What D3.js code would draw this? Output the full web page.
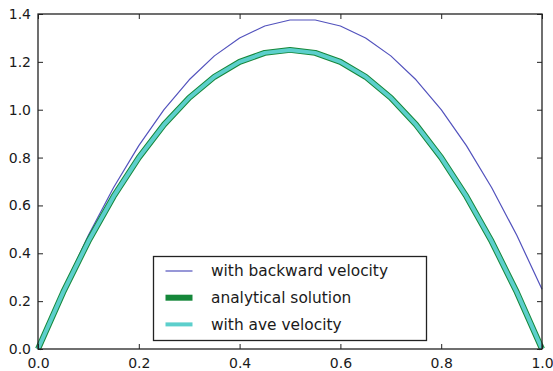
<!DOCTYPE html>
<html>
<head>
<meta charset="utf-8">
<script src="https://cdn.jsdelivr.net/npm/d3@7"></script>
<style>
  body { margin: 0; background: #fff; }
  svg text { font-family: "DejaVu Sans", sans-serif; fill: #1a1a1a; }
</style>
</head>
<body>
<div id="chart"></div>
<script>
const xs = [0, 0.05, 0.1, 0.15, 0.2, 0.25, 0.3, 0.35, 0.4, 0.45, 0.5, 0.55, 0.6, 0.65, 0.7, 0.75, 0.8, 0.85, 0.9, 0.95, 1.0];
const backward = [0, 0.25, 0.475, 0.675, 0.85, 1.0, 1.125, 1.225, 1.3, 1.35, 1.375, 1.375, 1.35, 1.3, 1.225, 1.125, 1.0, 0.85, 0.675, 0.475, 0.25];
const analytical = [0, 0.2375, 0.45, 0.6375, 0.8, 0.9375, 1.05, 1.1375, 1.2, 1.2375, 1.25, 1.2375, 1.2, 1.1375, 1.05, 0.9375, 0.8, 0.6375, 0.45, 0.2375, 0];
const aveVelocity = [0, 0.2375, 0.45, 0.6375, 0.8, 0.9375, 1.05, 1.1375, 1.2, 1.2375, 1.25, 1.2375, 1.2, 1.1375, 1.05, 0.9375, 0.8, 0.6375, 0.45, 0.2375, 0];
const xTicks = [0, 0.2, 0.4, 0.6, 0.8, 1.0];
const yTicks = [0, 0.2, 0.4, 0.6, 0.8, 1.0, 1.2, 1.4];

const series = [
  { name: 'with backward velocity', values: backward, color: '#5252bd', width: 1.2 },
  { name: 'analytical solution', values: analytical, color: '#15873a', width: 6 },
  { name: 'with ave velocity', values: aveVelocity, color: '#5ccfcc', width: 4 }
];

const width = 553, height = 371;
const margin = { top: 14, right: 11, bottom: 22, left: 38 };
const w = width - margin.left - margin.right;
const h = height - margin.top - margin.bottom;

const svg = d3.select('#chart').append('svg')
  .attr('width', width).attr('height', height);

const g = svg.append('g').attr('transform', `translate(${margin.left},${margin.top})`);

const x = d3.scaleLinear().domain([0, 1]).range([0, w]);
const y = d3.scaleLinear().domain([0, 1.4]).range([h, 0]);

// Lines
const line = d3.line().x((d, i) => x(xs[i])).y(d => y(d));
series.forEach(s => {
  g.append('path')
    .datum(s.values)
    .attr('d', line)
    .attr('fill', 'none')
    .attr('stroke', s.color)
    .attr('stroke-width', s.width)
    .attr('stroke-linejoin', 'round');
});

// Frame
g.append('rect')
  .attr('width', w).attr('height', h)
  .attr('fill', 'none').attr('stroke', '#222').attr('stroke-width', 1.3);

// Axes (ticks inward, on all sides)
const fmt = d3.format('.1f');
const xb = g.append('g').attr('transform', `translate(0,${h})`)
  .call(d3.axisBottom(x).tickValues(xTicks).tickFormat(fmt).tickSizeInner(-5).tickSizeOuter(0).tickPadding(9));
const xt = g.append('g')
  .call(d3.axisTop(x).tickValues(xTicks).tickFormat('').tickSizeInner(-5).tickSizeOuter(0));
const yl = g.append('g')
  .call(d3.axisLeft(y).tickValues(yTicks).tickFormat(fmt).tickSizeInner(-5).tickSizeOuter(0).tickPadding(7));
const yr = g.append('g').attr('transform', `translate(${w},0)`)
  .call(d3.axisRight(y).tickValues(yTicks).tickFormat('').tickSizeInner(-5).tickSizeOuter(0));

[xb, xt, yl, yr].forEach(a => {
  a.select('.domain').remove();
  a.selectAll('line').attr('stroke', '#222');
  a.selectAll('text').attr('font-size', '14px').attr('fill', '#1a1a1a')
    .style('font-family', '"DejaVu Sans", sans-serif');
});

// Legend
const legend = svg.append('g').attr('transform', 'translate(153.5,256.5)');
legend.append('rect')
  .attr('width', 273).attr('height', 84)
  .attr('fill', '#fff').attr('stroke', '#222').attr('stroke-width', 1.3);
series.forEach((s, i) => {
  const ly = 14.5 + i * 26.7;
  legend.append('line')
    .attr('x1', 12).attr('x2', 39).attr('y1', ly).attr('y2', ly)
    .attr('stroke', s.color).attr('stroke-width', s.width);
  legend.append('text')
    .attr('x', 57.5).attr('y', ly).attr('dy', '0.35em')
    .attr('font-size', '15.4px')
    .text(s.name);
});
</script>
</body>
</html>
